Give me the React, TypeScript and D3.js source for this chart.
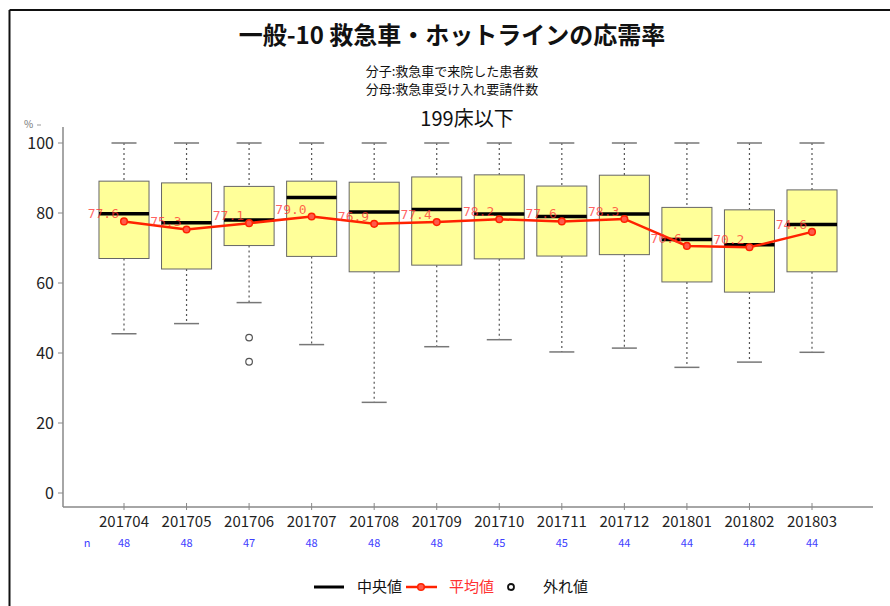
import React from "react";
import * as d3 from "d3";

const categories = ["201704","201705","201706","201707","201708","201709","201710","201711","201712","201801","201802","201803"];
const counts = [48,48,47,48,48,48,45,45,44,44,44,44];
const whiskerHigh = [100,100,100,100,100,100,100,100,100,100,100,100];
const q3 = [89.1,88.6,87.6,89.1,88.8,90.3,90.9,87.7,90.8,81.6,80.9,86.6];
const medians = [79.8,77.2,78.0,84.4,80.3,81.0,79.7,79.0,79.7,72.4,70.9,76.7];
const q1 = [67.0,64.0,70.7,67.6,63.2,65.1,66.9,67.7,68.1,60.3,57.4,63.2];
const whiskerLow = [45.5,48.4,54.4,42.4,25.9,41.8,43.8,40.3,41.4,35.9,37.4,40.2];
const means = [77.6,75.3,77.1,79.0,76.9,77.4,78.2,77.6,78.3,70.6,70.2,74.6];
const outliers: [string, number][] = [["201706",44.4],["201706",37.5]];
const yTicks = [0,20,40,60,80,100];

const W = 890, H = 606;
const FONT = "'Noto Sans CJK JP', 'Noto Sans', sans-serif";

export default function App() {
  const x = d3.scalePoint<string>().domain(categories).range([124, 812]);
  const y = d3.scaleLinear().domain([0, 100]).range([493, 143]);
  const bw = x.step() * 0.8;
  const axisColor = "#888";
  const line = d3.line<number>().x((_, i) => x(categories[i])!).y(d => y(d));

  return (
    <svg width={W} height={H} style={{ position: "absolute", left: 0, top: 0, background: "#fff" }} fontFamily={FONT}>
      <rect x={0} y={0} width={W} height={H} fill="#fff" />
      {/* frame */}
      <line x1={9.5} y1={10} x2={W} y2={10} stroke="#111" strokeWidth={2} />
      <line x1={9.5} y1={10} x2={9.5} y2={H} stroke="#111" strokeWidth={2} />

      {/* titles */}
      <text x={452} y={44} textAnchor="middle" fontSize={24} fontWeight="bold" fill="#111">一般-10 救急車・ホットラインの応需率</text>
      <text x={452} y={76} textAnchor="middle" fontSize={13} fill="#111">分子:救急車で来院した患者数</text>
      <text x={452} y={94} textAnchor="middle" fontSize={13} fill="#111">分母:救急車受け入れ要請件数</text>
      <text x={467} y={126} textAnchor="middle" fontSize={20} fill="#111">199床以下</text>

      {/* axes */}
      <line x1={63} y1={127} x2={63} y2={507} stroke={axisColor} strokeWidth={1.5} />
      <line x1={63} y1={507} x2={873} y2={507} stroke={axisColor} strokeWidth={1.5} />
      <text x={24} y={128} fontSize={10} fill="#777">%</text>
      <line x1={37} y1={125} x2={41} y2={125} stroke="#999" strokeWidth={1} />
      {yTicks.map(t => (
        <g key={t}>
          <line x1={58} y1={y(t)} x2={63} y2={y(t)} stroke={axisColor} strokeWidth={1} />
          <text x={54} y={y(t)} dy="0.36em" textAnchor="end" fontSize={16} fill="#222">{t}</text>
        </g>
      ))}
      {categories.map((c, i) => (
        <g key={c}>
          <line x1={x(c)!} y1={503} x2={x(c)!} y2={510} stroke={axisColor} strokeWidth={1} />
          <text x={x(c)!} y={527} textAnchor="middle" fontSize={15} fill="#222">{c}</text>
          <text x={x(c)!} y={547} textAnchor="middle" fontSize={11} fill="#4040ff">{counts[i]}</text>
        </g>
      ))}
      <text x={87} y={547} textAnchor="middle" fontSize={11} fill="#4040ff">n</text>

      {/* boxes */}
      {categories.map((c, i) => {
        const cx = x(c)!;
        return (
          <g key={c}>
            <line x1={cx} y1={y(whiskerHigh[i])} x2={cx} y2={y(q3[i])} stroke="#555" strokeDasharray="2,3" strokeWidth={1.2} />
            <line x1={cx} y1={y(q1[i])} x2={cx} y2={y(whiskerLow[i])} stroke="#555" strokeDasharray="2,3" strokeWidth={1.2} />
            <line x1={cx - bw / 4} y1={y(whiskerHigh[i])} x2={cx + bw / 4} y2={y(whiskerHigh[i])} stroke="#777" strokeWidth={1.5} />
            <line x1={cx - bw / 4} y1={y(whiskerLow[i])} x2={cx + bw / 4} y2={y(whiskerLow[i])} stroke="#777" strokeWidth={1.5} />
            <rect x={cx - bw / 2} y={y(q3[i])} width={bw} height={y(q1[i]) - y(q3[i])} fill="#ffff99" stroke="#666" strokeWidth={1} />
            <line x1={cx - bw / 2} y1={y(medians[i])} x2={cx + bw / 2} y2={y(medians[i])} stroke="#000" strokeWidth={3.5} />
          </g>
        );
      })}
      {outliers.map(([c, v], i) => (
        <circle key={i} cx={x(c)!} cy={y(v)} r={3.3} fill="none" stroke="#555" strokeWidth={1.2} />
      ))}

      {/* means */}
      <path d={line(means) ?? ""} fill="none" stroke="#ff2200" strokeWidth={2.5} />
      {categories.map((c, i) => (
        <g key={c}>
          <circle cx={x(c)!} cy={y(means[i])} r={3.3} fill="#ff5a4a" stroke="#ff2200" strokeWidth={1.5} />
          <text x={x(c)! - 5} y={y(means[i]) - 3} textAnchor="end" fontSize={13} fontFamily="'DejaVu Sans Mono', monospace" fill="#ff3030" fillOpacity={0.75}>{means[i].toFixed(1)}</text>
        </g>
      ))}

      {/* legend */}
      <line x1={314} y1={587} x2={344} y2={587} stroke="#000" strokeWidth={3} />
      <text x={357} y={587} dy="0.36em" fontSize={15} fill="#111">中央値</text>
      <line x1={406} y1={587} x2={437} y2={587} stroke="#ff2200" strokeWidth={2.5} />
      <circle cx={421} cy={587} r={3.3} fill="#ff5a4a" stroke="#ff2200" strokeWidth={1.5} />
      <text x={449} y={587} dy="0.36em" fontSize={15} fill="#ff3030">平均値</text>
      <circle cx={511} cy={587} r={3} fill="none" stroke="#111" strokeWidth={1.8} />
      <text x={543} y={587} dy="0.36em" fontSize={15} fill="#111">外れ値</text>
    </svg>
  );
}
